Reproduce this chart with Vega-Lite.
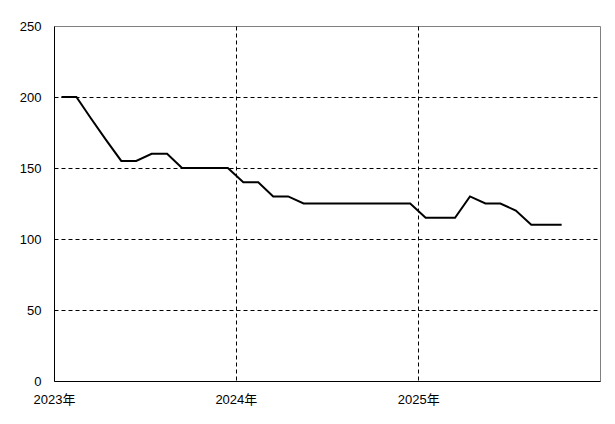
{
  "$schema": "https://vega.github.io/schema/vega-lite/v6.json",
  "width": 546,
  "height": 355,
  "autosize": {"type": "none"},
  "padding": {"left": 54, "top": 26, "right": 15, "bottom": 43},
  "background": "white",
  "config": {
    "view": {"stroke": "#808080", "strokeWidth": 1},
    "font": "Liberation Sans, Noto Sans CJK JP",
    "axis": {
      "labelFont": "Liberation Sans, Noto Sans CJK JP",
      "labelFontSize": 13,
      "labelColor": "black",
      "domainColor": "black",
      "domainWidth": 1,
      "ticks": false,
      "gridColor": "black",
      "gridDash": [4, 3],
      "gridWidth": 1,
      "gridOpacity": 1,
      "title": null
    }
  },
  "data": {
    "values": [
      {"date": "2023-01-16", "value": 200},
      {"date": "2023-02-15", "value": 200},
      {"date": "2023-03-16", "value": 185},
      {"date": "2023-04-15", "value": 170},
      {"date": "2023-05-16", "value": 155},
      {"date": "2023-06-15", "value": 155},
      {"date": "2023-07-16", "value": 160},
      {"date": "2023-08-16", "value": 160},
      {"date": "2023-09-15", "value": 150},
      {"date": "2023-10-16", "value": 150},
      {"date": "2023-11-15", "value": 150},
      {"date": "2023-12-16", "value": 150},
      {"date": "2024-01-16", "value": 140},
      {"date": "2024-02-15", "value": 140},
      {"date": "2024-03-16", "value": 130},
      {"date": "2024-04-15", "value": 130},
      {"date": "2024-05-16", "value": 125},
      {"date": "2024-06-15", "value": 125},
      {"date": "2024-07-16", "value": 125},
      {"date": "2024-08-16", "value": 125},
      {"date": "2024-09-15", "value": 125},
      {"date": "2024-10-16", "value": 125},
      {"date": "2024-11-15", "value": 125},
      {"date": "2024-12-16", "value": 125},
      {"date": "2025-01-16", "value": 115},
      {"date": "2025-02-15", "value": 115},
      {"date": "2025-03-16", "value": 115},
      {"date": "2025-04-15", "value": 130},
      {"date": "2025-05-16", "value": 125},
      {"date": "2025-06-15", "value": 125},
      {"date": "2025-07-16", "value": 120},
      {"date": "2025-08-16", "value": 110},
      {"date": "2025-09-15", "value": 110},
      {"date": "2025-10-16", "value": 110}
    ]
  },
  "mark": {"type": "line", "color": "black", "strokeWidth": 2, "strokeJoin": "miter"},
  "encoding": {
    "x": {
      "field": "date",
      "type": "temporal",
      "scale": {"domain": ["2023-01-01T00:00:00", "2026-01-01T00:00:00"], "nice": false},
      "axis": {
        "values": ["2023-01-01T00:00:00", "2024-01-01T00:00:00", "2025-01-01T00:00:00"],
        "format": "%Y年",
        "labelAlign": "center",
        "labelDx": 8,
        "labelPadding": 12,
        "gridOpacity": {"condition": {"test": "year(datum.value) == 2023", "value": 0}, "value": 1}
      }
    },
    "y": {
      "field": "value",
      "type": "quantitative",
      "scale": {"domain": [0, 250], "nice": false},
      "axis": {
        "values": [0, 50, 100, 150, 200, 250],
        "labelPadding": 13,
        "gridOpacity": {"condition": {"test": "datum.value == 0 || datum.value == 250", "value": 0}, "value": 1}
      }
    }
  }
}
